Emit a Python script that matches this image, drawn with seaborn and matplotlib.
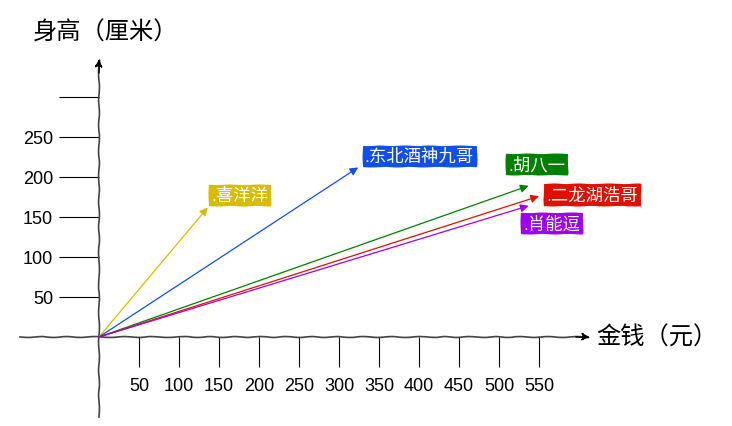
"""Money vs height sketch chart (xkcd style arrows from origin)."""
import matplotlib
matplotlib.use("Agg")
import matplotlib.pyplot as plt
import seaborn as sns

# -- Data ----------------------------------------------------------------------
names = [".喜洋洋", ".东北酒神九哥", ".胡八一", ".二龙湖浩哥", ".肖能逗"]
money = [136, 324, 537, 550, 537]
height = [162, 212, 189, 176, 164]
colors = ["#d8bc00", "#1050e8", "#008000", "#e01000", "#a000f0"]

x_ticks = [50, 100, 150, 200, 250, 300, 350, 400, 450, 500, 550]
y_ticks = [50, 100, 150, 200, 250, 300]
y_tick_labels = ["50", "100", "150", "200", "250", ""]

x_label = "金钱（元）"
y_label = "身高（厘米）"

# label box offsets from the arrow tip (points)
label_offsets = [(2.5, 3.2), (4.7, 2.5), (-14.8, 9.7), (5.4, -4.7), (-4.0, -18.4)]

sns.set_theme(style="white")
plt.xkcd()
plt.rcParams["font.family"] = ["Liberation Sans", "Noto Sans CJK SC", "DejaVu Sans"]
plt.rcParams["path.effects"] = []

fig = plt.figure(figsize=(7.32, 4.27), dpi=100)
ax = fig.add_axes([0, 0, 1, 1])
ax.set_xlim(-123.75, 791.25)
ax.set_ylim(-111.25, 422.5)
ax.set_facecolor("white")

# -- Axes through the origin ---------------------------------------------------
for side in ("top", "right"):
    ax.spines[side].set_visible(False)
for side in ("left", "bottom"):
    ax.spines[side].set_position(("data", 0))
    ax.spines[side].set_color("#444444")
    ax.spines[side].set_linewidth(1.2)
    ax.spines[side].set_sketch_params(0.45, 30, 2)
ax.spines["bottom"].set_bounds(-99, 608)
ax.spines["left"].set_bounds(-100, 342)

arrow_kw = dict(arrowstyle="-|>", color="black", lw=1, mutation_scale=12,
                shrinkA=0, shrinkB=0)
ax.annotate("", xy=(614, 0), xytext=(596, 0), arrowprops=arrow_kw)
ax.annotate("", xy=(0, 348), xytext=(0, 330), arrowprops=arrow_kw)

ax.set_xticks(x_ticks)
ax.set_xticklabels([str(t) for t in x_ticks])
ax.set_yticks(y_ticks)
ax.set_yticklabels(y_tick_labels)
ax.tick_params(axis="x", bottom=True, direction="out", length=21.6, width=0.8,
               pad=7, labelsize=13, color="black", labelcolor="black")
ax.tick_params(axis="y", left=True, direction="out", length=28.8, width=0.8,
               pad=4.3, labelsize=13, color="black", labelcolor="black")

ax.text(-82, 381, y_label, ha="left", va="center", fontsize=17.5, color="black")
ax.text(622, 0, x_label, ha="left", va="center", fontsize=17.5, color="black")

# -- Arrows and labels ---------------------------------------------------------
for name, x, y, c, off in zip(names, money, height, colors, label_offsets):
    arr = ax.annotate("", xy=(x, y), xytext=(0, 0),
                      arrowprops=dict(arrowstyle="-|>", color=c, lw=0.9,
                                      mutation_scale=12, shrinkA=0, shrinkB=0))
    arr.arrow_patch.set_sketch_params(None)
    lab = ax.annotate(name, xy=(x, y), xytext=off, textcoords="offset points",
                      ha="left", va="bottom", fontsize=12.5, color="white",
                      bbox=dict(boxstyle="square,pad=0.12", fc=c, ec=c, lw=1))
    lab.get_bbox_patch().set_sketch_params(0.3, 30, 2)

fig.savefig("out.png", dpi=100)
plt.close(fig)
